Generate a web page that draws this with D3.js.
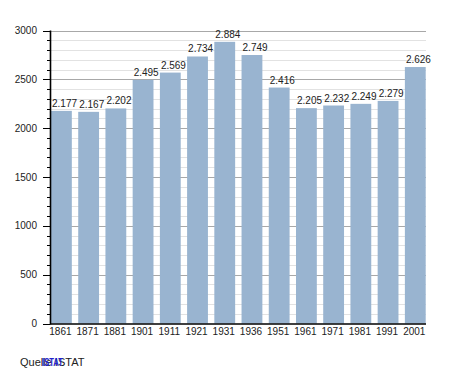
<!DOCTYPE html>
<html><head><meta charset="utf-8">
<script src="https://cdn.jsdelivr.net/npm/d3@7"></script>
<style>body{margin:0;background:#fff}svg{display:block}text{font-family:"Liberation Sans",Arial,sans-serif}</style>
</head><body>
<svg id="c" width="455" height="373"></svg>
<script>
const years = ["1861","1871","1881","1901","1911","1921","1931","1936","1951","1961","1971","1981","1991","2001"];
const population = [2177,2167,2202,2495,2569,2734,2884,2749,2416,2205,2232,2249,2279,2626];
const valueLabels = ["2.177","2.167","2.202","2.495","2.569","2.734","2.884","2.749","2.416","2.205","2.232","2.249","2.279","2.626"];
const yTicks = [0,500,1000,1500,2000,2500,3000];

const svg = d3.select("#c");
const x = d3.scaleBand().domain(years).range([51, 425.7]).paddingInner(0.235).paddingOuter(0).align(0);
const y = d3.scaleLinear().domain([0,3000]).range([323.5, 30.5]);
const minor = d3.range(0, 3001, 100);

// grid
svg.append("g").selectAll("line").data(minor.filter(v => v % 500 !== 0)).join("line")
  .attr("x1", 50).attr("x2", 426).attr("y1", d => Math.round(y(d))+0.5).attr("y2", d => Math.round(y(d))+0.5)
  .attr("stroke", "#e2e2e2").attr("stroke-width", 1);
svg.append("g").selectAll("line").data(yTicks.filter(v => v > 0)).join("line")
  .attr("x1", 50).attr("x2", 426).attr("y1", d => Math.round(y(d))+0.5).attr("y2", d => Math.round(y(d))+0.5)
  .attr("stroke", "#a8a8a8").attr("stroke-width", 1);

// bars
svg.append("g").selectAll("rect").data(years).join("rect")
  .attr("x", d => x(d)).attr("width", x.bandwidth())
  .attr("y", (d,i) => y(population[i])).attr("height", (d,i) => y(0) - y(population[i]))
  .attr("fill", "#99b4d0");

// value labels
svg.append("g").selectAll("text").data(years).join("text")
  .attr("x", d => x(d) + 1).attr("y", (d,i) => y(population[i]) - 4)
  .attr("font-size", 10).attr("fill", "#222")
  .text((d,i) => valueLabels[i]);

// y axis minor ticks
svg.append("g").selectAll("line").data(minor).join("line")
  .attr("x1", d => d % 500 === 0 ? 43 : 47).attr("x2", 50)
  .attr("y1", d => Math.round(y(d))+0.5).attr("y2", d => Math.round(y(d))+0.5)
  .attr("stroke", "#000").attr("stroke-width", 1);
svg.append("line").attr("x1", 50.5).attr("x2", 50.5).attr("y1", y(3000)).attr("y2", y(0)+1)
  .attr("stroke", "#000").attr("stroke-width", 1.6);
svg.append("line").attr("x1", 50).attr("x2", 426).attr("y1", y(0)+0.5).attr("y2", y(0)+0.5)
  .attr("stroke", "#000").attr("stroke-width", 1.6);

// y labels
svg.append("g").selectAll("text").data(yTicks).join("text")
  .attr("x", 37).attr("y", d => y(d)).attr("dy", "0.35em")
  .attr("text-anchor", "end").attr("font-size", 10).attr("fill", "#222")
  .text(d => d);

// x labels
svg.append("g").selectAll("text").data(years).join("text")
  .attr("x", d => x(d) + x.bandwidth()/2 - 1).attr("y", 335)
  .attr("text-anchor", "middle").attr("font-size", 10).attr("fill", "#222")
  .text(d => d);

// source
svg.append("text").attr("x", 20).attr("y", 366).attr("font-size", 11).attr("fill", "#222").text("Quelle ISTAT");
svg.append("text").attr("x", 42).attr("y", 366).attr("font-size", 11).attr("fill", "#2222cc")
  .attr("font-weight", "bold").attr("textLength", 21).attr("lengthAdjust", "spacingAndGlyphs").text("ISTAT");
</script>
</body></html>
